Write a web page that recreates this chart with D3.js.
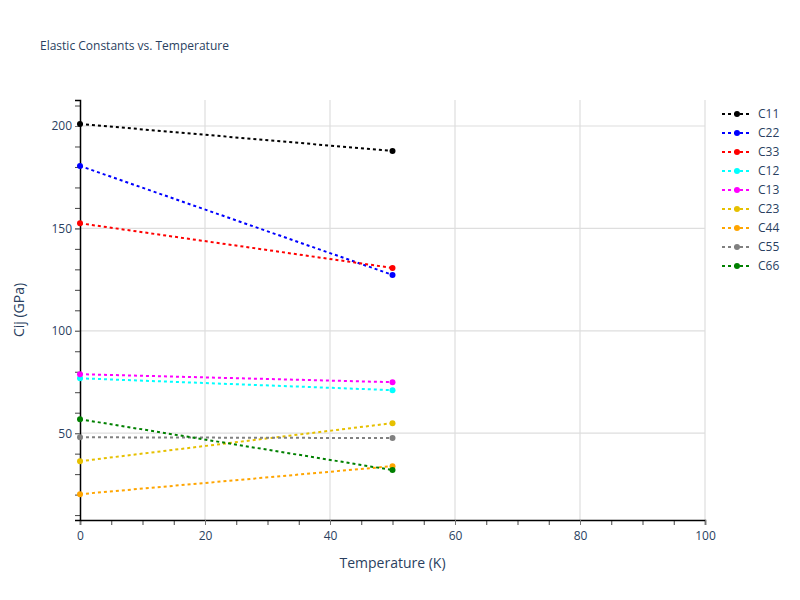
<!DOCTYPE html>
<html>
<head>
<meta charset="utf-8">
<script src="https://d3js.org/d3.v7.min.js"></script>
<style>
  html, body { margin: 0; padding: 0; background: #fff; }
  text { font-family: "Open Sans", Arial, sans-serif; }
</style>
</head>
<body>
<div id="chart"></div>
<script>
// temperatures (K) and elastic constants (GPa)
const temps = [0, 50];
const names = ["C11", "C22", "C33", "C12", "C13", "C23", "C44", "C55", "C66"];
const colors = ["black", "blue", "red", "cyan", "magenta", "#e6c000", "orange", "gray", "green"];
const C11 = [201.0, 187.8];
const C22 = [180.5, 127.3];
const C33 = [152.5, 130.7];
const C12 = [76.8, 71.0];
const C13 = [78.8, 74.9];
const C23 = [36.3, 54.9];
const C44 = [20.2, 33.9];
const C55 = [48.0, 47.6];
const C66 = [56.8, 32.0];
const seriesValues = [C11, C22, C33, C12, C13, C23, C44, C55, C66];

const width = 800, height = 600;
const margin = { top: 100, right: 95, bottom: 80, left: 80 };
const gw = width - margin.left - margin.right;
const gh = height - margin.top - margin.bottom;

const svg = d3.select("#chart").append("svg")
    .attr("width", width).attr("height", height);

svg.append("text").attr("x", 40).attr("y", 50)
    .attr("font-size", 12).attr("fill", "#2a3f5f")
    .text("Elastic Constants vs. Temperature");

const g = svg.append("g").attr("transform", `translate(${margin.left},${margin.top})`);

const x = d3.scaleLinear().domain([0, 100]).range([0, gw]);
const y = d3.scaleLinear().domain([7.6, 212.7]).range([gh, 0]);

// grid
g.selectAll(".gx").data([20, 40, 60, 80, 100]).enter().append("line")
    .attr("x1", d => x(d)).attr("x2", d => x(d)).attr("y1", 0).attr("y2", gh)
    .attr("stroke", "#dedede").attr("stroke-width", 1.2);
g.selectAll(".gy").data([50, 100, 150, 200]).enter().append("line")
    .attr("x1", 0).attr("x2", gw).attr("y1", d => y(d)).attr("y2", d => y(d))
    .attr("stroke", "#dedede").attr("stroke-width", 1.2);

// minor ticks
const xMinor = d3.axisBottom(x).tickValues(d3.range(0, 101, 5)).tickSize(5).tickFormat("");
const yMinor = d3.axisLeft(y).tickValues(d3.range(10, 211, 10)).tickSize(5).tickFormat("");
[g.append("g").attr("transform", `translate(0,${gh})`).call(xMinor),
 g.append("g").call(yMinor)].forEach(a => {
    a.select(".domain").remove();
    a.selectAll("line").attr("stroke", "#444");
});

// major axes
const xAxis = g.append("g").attr("transform", `translate(0,${gh})`)
    .call(d3.axisBottom(x).tickValues([0, 20, 40, 60, 80, 100]).tickSize(5).tickPadding(6));
const yAxis = g.append("g")
    .call(d3.axisLeft(y).tickValues([50, 100, 150, 200]).tickSize(5).tickPadding(3));
[xAxis, yAxis].forEach(a => {
    a.select(".domain").attr("stroke", "black").attr("stroke-width", 1.5);
    a.selectAll(".tick line").attr("stroke", "#777");
    a.selectAll("text").attr("font-size", 12).attr("fill", "#2a3f5f")
        .style("font-family", "'Open Sans', Arial, sans-serif");
});

svg.append("text").attr("x", margin.left + gw / 2).attr("y", 568)
    .attr("text-anchor", "middle").attr("font-size", 14).attr("fill", "#2a3f5f")
    .text("Temperature (K)");
svg.append("text")
    .attr("transform", `translate(24,${margin.top + gh / 2}) rotate(-90)`)
    .attr("text-anchor", "middle").attr("font-size", 14).attr("fill", "#2a3f5f")
    .text("Cij (GPa)");

const line = d3.line().x((d, i) => x(temps[i])).y(d => y(d));
seriesValues.forEach((vals, k) => {
    g.append("path").datum(vals).attr("d", line)
        .attr("fill", "none").attr("stroke", colors[k]).attr("stroke-width", 2)
        .attr("stroke-dasharray", "3,3");
    g.selectAll(null).data(vals).enter().append("circle")
        .attr("cx", (d, i) => x(temps[i])).attr("cy", d => y(d)).attr("r", 3)
        .attr("fill", colors[k]);
});

// legend
const leg = svg.append("g").attr("transform", "translate(722,114)");
names.forEach((n, k) => {
    const r = leg.append("g").attr("transform", `translate(0,${k * 19})`);
    r.append("line").attr("x1", 0).attr("x2", 30).attr("stroke", colors[k])
        .attr("stroke-width", 2).attr("stroke-dasharray", "3,3");
    r.append("circle").attr("cx", 15).attr("r", 3).attr("fill", colors[k]);
    r.append("text").attr("x", 36).attr("y", 4).attr("font-size", 12)
        .attr("fill", "#2a3f5f").text(n);
});
</script>
</body>
</html>
